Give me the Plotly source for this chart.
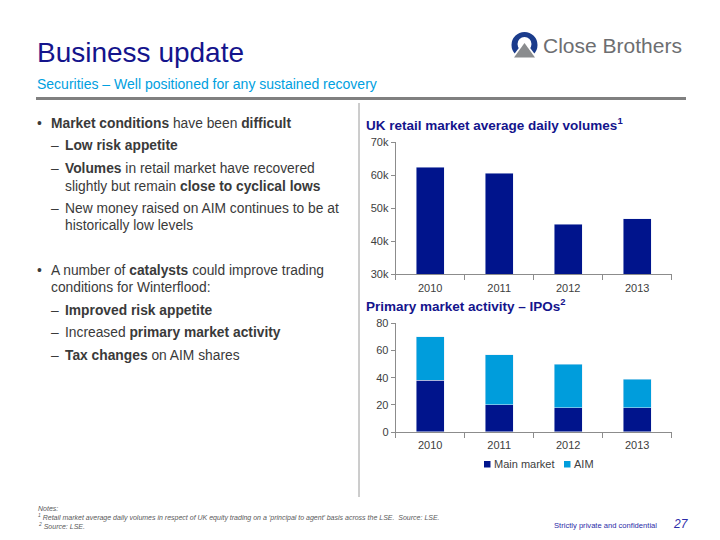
import plotly.graph_objects as go

# ---------------- data ----------------
years = ["2010", "2011", "2012", "2013"]
retail_volumes_k = [62.4, 60.6, 45.2, 46.8]          # thousands
ipo_main_market = [38, 20, 18, 18]
ipo_aim = [32, 37, 32, 21]
series_names = ["Main market", "AIM"]

retail_ticks = [30, 40, 50, 60, 70]
ipo_ticks = [0, 20, 40, 60, 80]

# ---------------- style ----------------
FONT = "Arial, Liberation Sans, sans-serif"
DARK = "#00148C"
LIGHT = "#009DDC"
TITLE_BLUE = "#14148C"
TEXT = "#3A3A3A"
AXIS = "#8C8C8C"
W, H = 720, 540


def px(x):
    return x / W


def py(y):
    return 1 - y / H


fig = go.Figure()

fig.add_trace(go.Bar(x=years, y=retail_volumes_k, marker_color=DARK,
                     showlegend=False, xaxis="x", yaxis="y"))
fig.add_trace(go.Bar(x=years, y=ipo_main_market, name=series_names[0],
                     marker_color=DARK, xaxis="x2", yaxis="y2", showlegend=False))
fig.add_trace(go.Bar(x=years, y=ipo_aim, name=series_names[1],
                     marker_color=LIGHT, xaxis="x2", yaxis="y2", showlegend=False))

xdom = [px(395.7), px(671.7)]
common_x = dict(domain=xdom, showline=True, linecolor=AXIS, linewidth=1,
                ticks="outside", tickson="boundaries", ticklen=5,
                tickcolor=AXIS, showgrid=False, zeroline=False,
                ticklabelstandoff=3,
                tickfont=dict(family=FONT, size=11, color="#404040"),
                fixedrange=True, automargin=False)
common_y = dict(showline=True, linecolor=AXIS, linewidth=1,
                ticks="outside", ticklen=4, tickcolor=AXIS,
                showgrid=False, zeroline=False,
                tickfont=dict(family=FONT, size=11, color="#404040"),
                fixedrange=True, automargin=False)

fig.update_layout(
    width=W, height=H, autosize=False,
    margin=dict(l=0, r=0, t=0, b=0, pad=0, autoexpand=False),
    paper_bgcolor="white", plot_bgcolor="white",
    barmode="stack", bargap=0.6,
    font=dict(family=FONT, color=TEXT),
    showlegend=False,
    xaxis=dict(**common_x, anchor="y"),
    yaxis=dict(**common_y, domain=[py(274.3), py(142.3)], range=[30, 70],
               tickvals=retail_ticks, ticktext=[f"{v}k" for v in retail_ticks],
               anchor="x"),
    xaxis2=dict(**common_x, anchor="y2"),
    yaxis2=dict(**common_y, domain=[py(432), py(323.3)], range=[0, 80],
                tickvals=ipo_ticks, anchor="x2"),
)

ann = []


def text(x, y, s, size, color=TEXT, xanchor="left", yanchor="middle"):
    ann.append(dict(x=px(x), y=py(y), xref="paper", yref="paper",
                    text=s, showarrow=False, xanchor=xanchor,
                    yanchor=yanchor, align="left",
                    font=dict(family=FONT, size=size, color=color)))


# header
text(35, 53, "Business update", 28, TITLE_BLUE)
text(35, 84, "Securities – Well positioned for any sustained recovery", 14, "#00A0E0")
text(541, 45, "Close Brothers", 21, "#6D6E71")

# bullets
BS = 13.8
text(35, 123.5, "•", BS)
text(49, 123.5, "<b>Market conditions</b> have been <b>difficult</b>", BS)
text(49, 145.7, "–", BS)
text(63, 145.7, "<b>Low risk appetite</b>", BS)
text(49, 169, "–", BS)
text(63, 169, "<b>Volumes</b> in retail market have recovered", BS)
text(63, 186, "slightly but remain <b>close to cyclical lows</b>", BS)
text(49, 208.7, "–", BS)
text(63, 208.7, "New money raised on AIM continues to be at", BS)
text(63, 225, "historically low levels", BS)
text(35, 270.7, "•", BS)
text(49, 270.7, "A number of <b>catalysts</b> could improve trading", BS)
text(49, 287.3, "conditions for Winterflood:", BS)
text(49, 310, "–", BS)
text(63, 310, "<b>Improved risk appetite</b>", BS)
text(49, 332.7, "–", BS)
text(63, 332.7, "Increased <b>primary market activity</b>", BS)
text(49, 355.7, "–", BS)
text(63, 355.7, "<b>Tax changes</b> on AIM shares", BS)

# chart titles
text(364, 124, "<b>UK retail market average daily volumes<sup>1</sup></b>", 13.5, TITLE_BLUE)
text(364, 305, "<b>Primary market activity – IPOs<sup>2</sup></b>", 13.5, TITLE_BLUE)

# legend texts
text(491.5, 464, series_names[0], 11, "#404040")
text(571.5, 464, series_names[1], 11, "#404040")

# notes
NC = "#595959"
text(36, 509, "<i>Notes:</i>", 7, NC)
text(36, 517.5, "<i><sup>1</sup> Retail market average daily volumes in respect of UK equity trading on a ‘principal to agent’ basis across the LSE.  Source: LSE.</i>", 7, NC)
text(36, 526, "<i><sup>2</sup> Source: LSE.</i>", 7, NC)

# footer
text(659, 525, "Strictly private and confidential", 7.6, "#2B2BA8", xanchor="right")
text(671, 524, "<i>27</i>", 12, "#2B2BA8")

fig.update_layout(annotations=ann)

shapes = [
    # header rule
    dict(type="line", xref="paper", yref="paper", x0=px(36), x1=px(686),
         y0=py(98.5), y1=py(98.5), line=dict(color="#808080", width=3)),
    # vertical divider
    dict(type="line", xref="paper", yref="paper", x0=px(359), x1=px(359),
         y0=py(103), y1=py(497), line=dict(color="#9A9A9A", width=1)),
    # legend swatches
    dict(type="rect", xref="paper", yref="paper", x0=px(484), x1=px(490.5),
         y0=py(467.5), y1=py(461), fillcolor=DARK, line=dict(width=0)),
    dict(type="rect", xref="paper", yref="paper", x0=px(564), x1=px(570.5),
         y0=py(467.5), y1=py(461), fillcolor=LIGHT, line=dict(width=0)),
    # logo: blue ring
    dict(type="circle", xref="paper", yref="paper", x0=px(511.5), x1=px(537.5),
         y0=py(58), y1=py(32), fillcolor="#1B3C8C", line=dict(width=0)),
    dict(type="circle", xref="paper", yref="paper", x0=px(517.5), x1=px(531.5),
         y0=py(51), y1=py(37), fillcolor="white", line=dict(width=0)),
    # logo: white gap + grey mountain
    dict(type="path", xref="paper", yref="paper",
         path=f"M {px(524.5)} {py(40.5)} L {px(510.5)} {py(59)} L {px(538.5)} {py(59)} Z",
         fillcolor="white", line=dict(width=0)),
    dict(type="path", xref="paper", yref="paper",
         path=f"M {px(524.5)} {py(43)} L {px(514)} {py(57.5)} L {px(535)} {py(57.5)} Z",
         fillcolor="#8A8C8E", line=dict(width=0)),
]
fig.update_layout(shapes=shapes)

fig.write_html("out.html", config={"displayModeBar": False},
               post_script="document.body.style.margin='0px';document.body.style.padding='0px';")
